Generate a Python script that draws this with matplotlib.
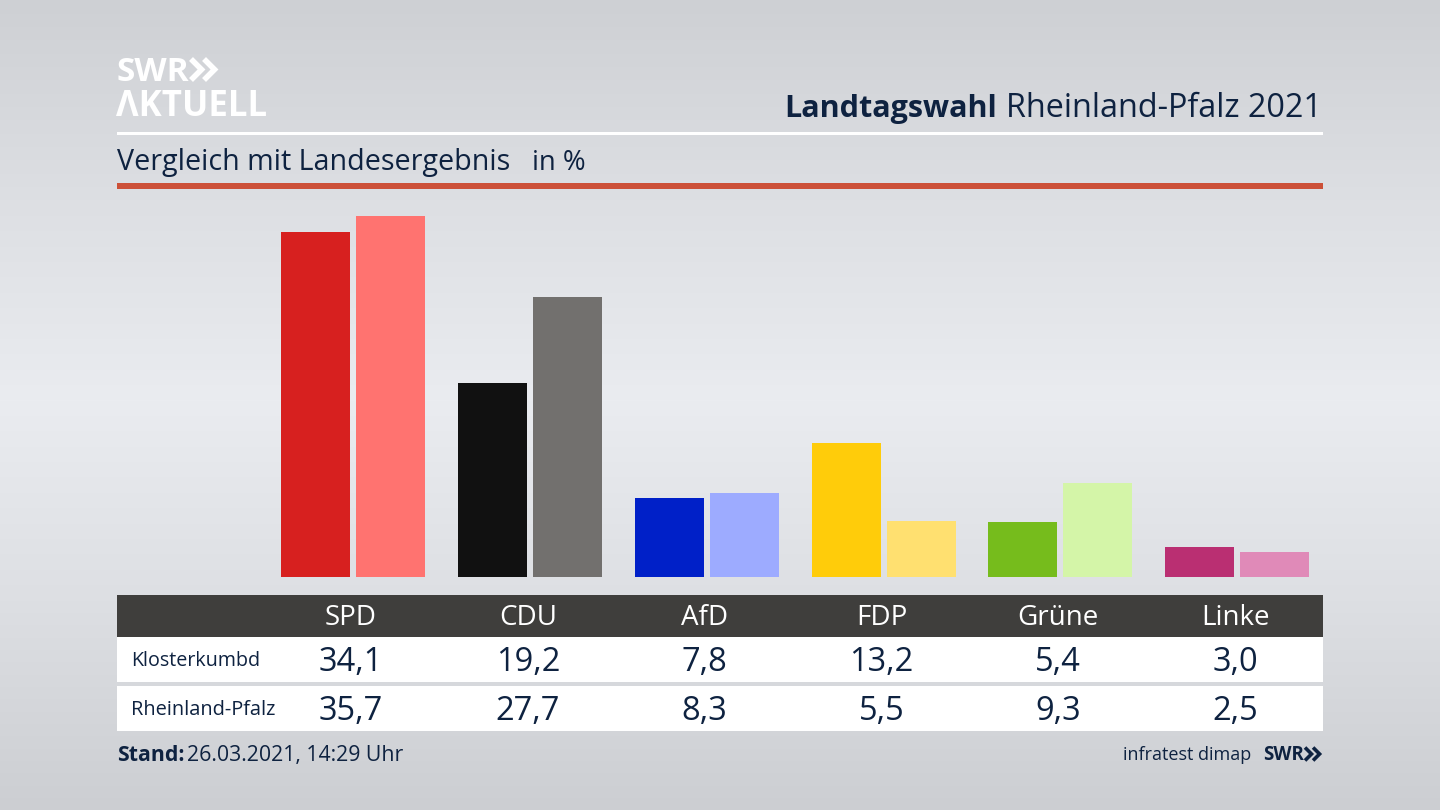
import numpy as np
import matplotlib
matplotlib.use('Agg')
import matplotlib.pyplot as plt
from matplotlib.patches import Rectangle

parties = ['SPD', 'CDU', 'AfD', 'FDP', 'Grüne', 'Linke']
klosterkumbd = [34.1, 19.2, 7.8, 13.2, 5.4, 3.0]
rheinland_pfalz = [35.7, 27.7, 8.3, 5.5, 9.3, 2.5]
colors_local = ['#d7201f', '#111111', '#0020c8', '#ffcc0a', '#76bc1c', '#ba2f72']
colors_state = ['#ff7370', '#72706e', '#9dabff', '#ffe070', '#d4f5a8', '#e08ab8']
row_names = ['Klosterkumbd', 'Rheinland-Pfalz']

plt.rcParams['font.family'] = ['Open Sans', 'Noto Sans', 'DejaVu Sans']
navy = '#0e2240'

fig = plt.figure(figsize=(14.4, 8.1), dpi=100)

# page in pixel coordinates
page = fig.add_axes([0, 0, 1, 1])
page.set_xlim(0, 1440)
page.set_ylim(810, 0)
page.axis('off')

# background gradient
stops_y = [0, 200, 400, 600, 810]
stops_v = [206, 221, 234, 221, 204]
grad = np.interp(np.arange(810), stops_y, stops_v)
rgb = np.stack([grad, grad + 2, grad + 6], axis=1)[:, None, :] / 255
page.imshow(np.clip(rgb, 0, 1), extent=[0, 1440, 810, 0], aspect='auto', zorder=0)

# logo
page.text(116, 81, 'SWR', color='white', fontsize=24, fontweight='bold',
          va='baseline', ha='left')
page.text(116, 116, 'ΛKTUELL', color='white', fontsize=25, fontweight='bold',
          va='baseline', ha='left')


def chevrons(x, y, h, lw, color):
    for dx in [0, h * 0.62]:
        page.plot([x + dx, x + dx + h * 0.5, x + dx], [y - h / 2, y, y + h / 2],
                  color=color, lw=lw, solid_joinstyle='miter', solid_capstyle='butt')


chevrons(191, 69.5, 21, 4.0, 'white')

# title
page.text(1322, 117, 'Rheinland-Pfalz 2021', color=navy, fontsize=23.3,
          ha='right', va='baseline')
page.text(997, 117, 'Landtagswahl', color=navy, fontsize=22, fontweight='bold',
          ha='right', va='baseline')

# rules
page.add_patch(Rectangle((117, 132), 1206, 3, color='white', lw=0, zorder=2))
page.add_patch(Rectangle((117, 183), 1206, 6, color='#cc5038', lw=0, zorder=2))

page.text(117, 170, 'Vergleich mit Landesergebnis', color=navy, fontsize=20.6,
          ha='left', va='baseline')
page.text(532, 170, 'in %', color=navy, fontsize=19.8, ha='left', va='baseline')

# bars
ax = fig.add_axes([117 / 1440, (810 - 577) / 810, 1206 / 1440, 388 / 810])
ax.patch.set_alpha(0)
x = np.arange(len(parties))
ax.bar(x - 0.212, klosterkumbd, width=0.39, color=colors_local)
ax.bar(x + 0.212, rheinland_pfalz, width=0.39, color=colors_state)
ax.set_xlim((117 - 353.2) / 176.8, (1323 - 353.2) / 176.8)
ax.set_ylim(0, 388 / 10.12)
ax.axis('off')

# table
page.add_patch(Rectangle((117, 595), 1206, 42, color='#3f3e3c', lw=0, zorder=2))
page.add_patch(Rectangle((117, 637), 1206, 45, color='white', lw=0, zorder=2))
page.add_patch(Rectangle((117, 686), 1206, 45, color='white', lw=0, zorder=2))

for i, p in enumerate(parties):
    cx = 351 + i * 176.8
    page.text(cx, 625, p, color='white', fontsize=20, ha='center', va='baseline', zorder=3)
    page.text(cx, 671, f'{klosterkumbd[i]:.1f}'.replace('.', ','), color=navy, fontsize=23.5,
              ha='center', va='baseline', zorder=3)
    page.text(cx, 720, f'{rheinland_pfalz[i]:.1f}'.replace('.', ','), color=navy, fontsize=23.5,
              ha='center', va='baseline', zorder=3)

page.text(131, 666, row_names[0], color=navy, fontsize=14.2, ha='left', va='baseline', zorder=3)
page.text(131, 715, row_names[1], color=navy, fontsize=14.4, ha='left', va='baseline', zorder=3)

# footer
page.text(117, 761, 'Stand:', color=navy, fontsize=15.3, fontweight='bold', ha='left', va='baseline')
page.text(187, 761, '26.03.2021, 14:29 Uhr', color=navy, fontsize=15.3, ha='left', va='baseline')
page.text(1251, 760, 'infratest dimap', color=navy, fontsize=13, ha='right', va='baseline')
page.text(1263, 760, 'SWR', color=navy, fontsize=13.5, fontweight='bold', ha='left', va='baseline')
chevrons(1305, 754, 13, 2.6, navy)

page.set_xlim(0, 1440)
page.set_ylim(810, 0)
fig.savefig('out.png', dpi=100)
